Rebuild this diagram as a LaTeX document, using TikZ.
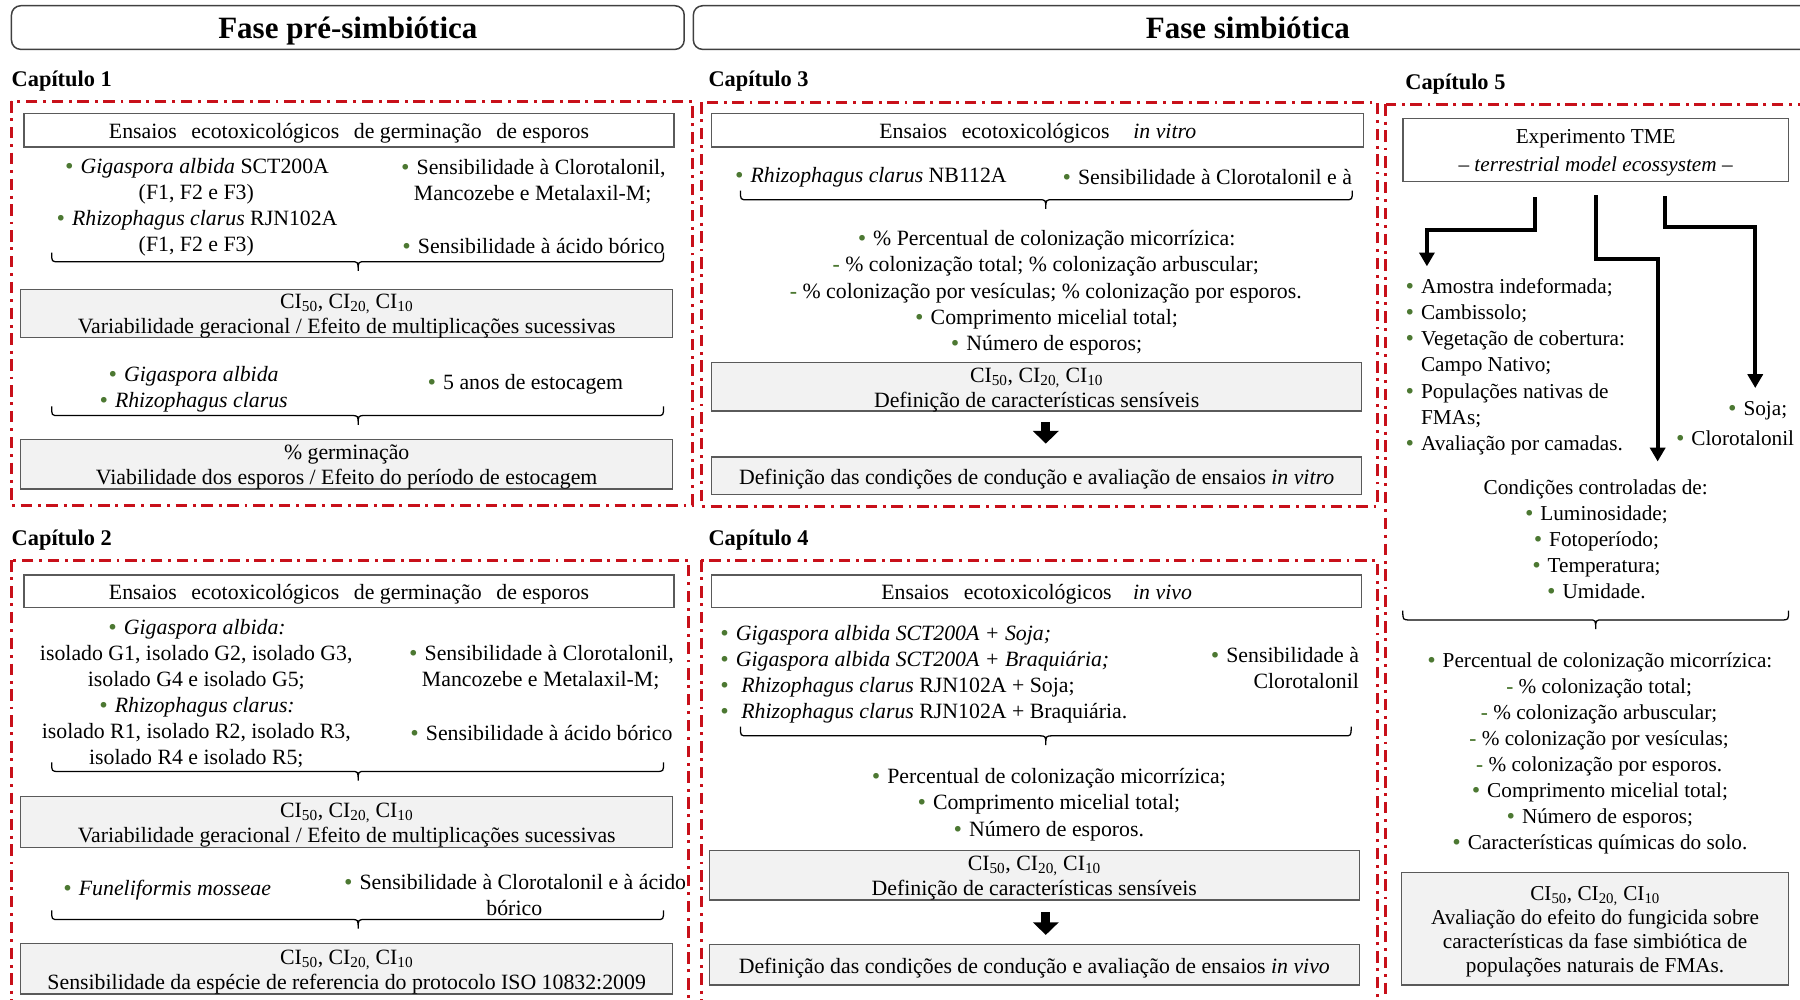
\documentclass[tikz,border=0pt]{standalone}
\usepackage{fontspec}
\setmainfont{Liberation Serif}
\newfontfamily\bulfont{DejaVu Sans}
\usetikzlibrary{arrows.meta}
\definecolor{redd}{RGB}{200,16,26}
\definecolor{bulg}{RGB}{76,120,50}
\definecolor{boxg}{RGB}{242,242,242}
\definecolor{edgeg}{RGB}{90,90,90}
\definecolor{hdrg}{RGB}{64,64,64}
\newcommand{\bul}{{\color{bulg}\bulfont\fontsize{17}{17}\selectfont•}\ }
\newcommand{\dsh}{{\color{bulg}\textbf{-}}\ }
\newcommand{\wsp}[1]{\hspace{#1pt}}
\newcommand{\CIs}{CI\textsubscript{50}, CI\textsubscript{20,} CI\textsubscript{10}}
\newcommand{\hbrace}[4]{\draw[bracestyle] (#1,#4-8) .. controls (#1,#4) .. (#1+6,#4) -- (#3-6,#4) .. controls (#3,#4) .. (#3,#4+8) .. controls (#3,#4) .. (#3+6,#4) -- (#2-6,#4) .. controls (#2,#4) .. (#2,#4-8);}
\begin{document}
\begin{tikzpicture}[x=1pt,y=-1pt,
  txt/.style={inner sep=0pt, yshift=-2.5pt, font=\fontsize{19}{22.7}\selectfont, align=center},
  txtf/.style={inner sep=0pt, yshift=-2.5pt, font=\fontsize{18.5}{22.7}\selectfont, align=center},
  btxt/.style={inner sep=0pt, yshift=-2.5pt, font=\fontsize{19}{22}\selectfont, align=center},
  wbox/.style={draw=edgeg, line width=1.2pt, fill=white, inner sep=0pt},
  gbox/.style={draw=edgeg, line width=1.2pt, fill=boxg, inner sep=0pt},
  hbox/.style={draw=hdrg, line width=1.3pt, rounded corners=8pt},
  hdrtxt/.style={inner sep=0pt, yshift=-2.5pt, font=\bfseries\fontsize{27}{30}\selectfont},
  redframe/.style={draw=redd, line width=2.6pt, dash pattern=on 10pt off 5pt on 2.5pt off 5pt},
  captxt/.style={inner sep=0pt, yshift=-2.5pt, anchor=west, font=\bfseries\fontsize{19.5}{22}\selectfont},
  bracestyle/.style={draw=black, line width=1.1pt},
  blockarrow/.style={line width=8pt, -{Triangle[width=22pt,length=11pt]}},
  elbow/.style={line width=3.5pt, -{Triangle[width=13pt,length=12pt]}}]
\useasboundingbox (0,0) rectangle (1568,871);
\clip (0,0) rectangle (1568,871);

% headers
\node[hbox, minimum width=586pt, minimum height=38pt] (h1) at (303,24) {};
\node[hdrtxt] (h1t) at (303,24.5) {Fase pré-simbiótica};
\draw[hbox] (604,5) rectangle (1610,43);
\node[hdrtxt] (h2t) at (1087,22) {Fase simbiótica};

% chapter labels
\node[captxt] (cap1) at (10,68) {Capítulo 1};
\node[captxt] (cap3) at (617,68) {Capítulo 3};
\node[captxt] (cap5) at (1224,71) {Capítulo 5};
\node[captxt] (cap2) at (10,468) {Capítulo 2};
\node[captxt] (cap4) at (617,468) {Capítulo 4};

% red frames
\draw[redframe] (10,88) rectangle (603,440);
\draw[redframe] (611,89) rectangle (1200,441);
\draw[redframe] (1207,91) rectangle (1620,920);
\draw[redframe] (10,488) rectangle (600,920);
\draw[redframe] (611,488) rectangle (1200,920);

% ---------- Chapter 1
\node[wbox, minimum width=566pt, minimum height=29pt] (c1t) at (304,113.5) {};
\node[btxt] (c1tx) at (c1t) {Ensaios\wsp{8} ecotoxicológicos\wsp{8} de germinação\wsp{8} de esporos};
\node[txt] (c1a) at (171,178) {\bul\textit{Gigaspora albida} SCT200A\\(F1, F2 e F3)\\\bul\textit{Rhizophagus clarus} RJN102A\\(F1, F2 e F3)};
\node[txt] (c1b) at (464,155.5) {\bul Sensibilidade à Clorotalonil,\\Mancozebe e Metalaxil-M;};
\node[txt] (c1c) at (464,212) {\bul Sensibilidade à ácido bórico};
\hbrace{45}{578}{312}{228}
\node[gbox, minimum width=568pt, minimum height=42pt] (c1g1) at (302,273) {};
\node[btxt] (c1g1x) at (c1g1) {\CIs\\Variabilidade geracional / Efeito de multiplicações sucessivas};
\node[txt] (c1d) at (168,336.5) {\bul\textit{Gigaspora albida}\\\bul\textit{Rhizophagus clarus}};
\node[txt] (c1e) at (457,332) {\bul 5 anos de estocagem};
\hbrace{45}{578}{312}{362}
\node[gbox, minimum width=568pt, minimum height=43pt] (c1g2) at (302,404.5) {};
\node[btxt] (c1g2x) at (c1g2) {\% germinação\\Viabilidade dos esporos / Efeito do período de estocagem};

% ---------- Chapter 3
\node[wbox, minimum width=568pt, minimum height=29pt] (c3t) at (904,113.5) {};
\node[btxt] (c3tx) at (c3t) {Ensaios\wsp{8} ecotoxicológicos\wsp{16} \textit{in vitro}};
\node[txt] (c3a) at (758,152) {\bul\textit{Rhizophagus clarus} NB112A};
\node[txt] (c3b) at (1051,152) {\bul Sensibilidade à Clorotalonil e à};
\hbrace{645}{1178}{911}{174}
\node[txt] (c3c) at (911,252.5) {\bul\% Percentual de colonização micorrízica:\\\dsh\% colonização total; \% colonização arbuscular;\\\dsh\% colonização por vesículas; \% colonização por esporos.\\\bul Comprimento micelial total;\\\bul Número de esporos;};
\node[gbox, minimum width=566pt, minimum height=42pt] (c3g1) at (903,337) {};
\node[btxt] (c3g1x) at (c3g1) {\CIs\\Definição de características sensíveis};
\node[gbox, minimum width=566pt, minimum height=33pt] (c3g2) at (903,414.5) {};
\node[btxt] (c3g2x) at (c3g2) {Definição das condições de condução e avaliação de ensaios \textit{in vitro}};
\draw[blockarrow, shorten <=9pt, shorten >=11pt] ([xshift=8pt]c3g1.south) -- ([xshift=8pt]c3g2.north);

% ---------- Chapter 5
\node[wbox, minimum width=336pt, minimum height=55pt] (c5t) at (1390,130.5) {};
\node[txtf, font=\fontsize{18.5}{24}\selectfont] (c5tx) at (c5t) {Experimento TME\\\textit{– terrestrial model ecossystem –}};
\coordinate (a1s) at (1337,172);
\coordinate (a1e) at (1243,232);
\coordinate (a2s) at (1390,170);
\coordinate (a2e) at (1444,402);
\coordinate (a3s) at (1450,171);
\coordinate (a3e) at (1529,338);
\draw[elbow] (a1s) -- (1337,200) -- (1243,200) -- (a1e);
\draw[elbow] (a2s) -- (1390,226) -- (1444,226) -- (a2e);
\draw[elbow] (a3s) -- (1450,198) -- (1529,198) -- (a3e);
\node[txtf, align=left, anchor=west] (c5l) at (1223,317) {\bul Amostra indeformada;\\\bul Cambissolo;\\\bul Vegetação de cobertura:\\\hphantom{\bul}Campo Nativo;\\\bul Populações nativas de\\\hphantom{\bul}FMAs;\\\bul Avaliação por camadas.};
\node[txtf, anchor=east] (c5s) at (1557,355) {\bul Soja;};
\node[txtf, anchor=east] (c5c) at (1563,379) {\bul Clorotalonil};
\node[txtf] (c5k) at (1390,467.5) {Condições controladas de:\\\bul Luminosidade;\\\bul Fotoperíodo;\\\bul Temperatura;\\\bul Umidade.};
\hbrace{1222}{1558}{1390}{540}
\node[txtf] (c5r) at (1393,654) {\bul Percentual de colonização micorrízica:\\\dsh\% colonização total;\\\dsh\% colonização arbuscular;\\\dsh\% colonização por vesículas;\\\dsh\% colonização por esporos.\\\bul Comprimento micelial total;\\\bul Número de esporos;\\\bul Características químicas do solo.};
\node[gbox, minimum width=337pt, minimum height=98pt] (c5g) at (1389.5,809) {};
\node[txtf, font=\fontsize{18.5}{21}\selectfont] (c5gx) at (c5g) {\CIs\\Avaliação do efeito do fungicida sobre\\características da fase simbiótica de\\populações naturais de FMAs.};

% ---------- Chapter 2
\node[wbox, minimum width=566pt, minimum height=28pt] (c2t) at (304,515) {};
\node[btxt] (c2tx) at (c2t) {Ensaios\wsp{8} ecotoxicológicos\wsp{8} de germinação\wsp{8} de esporos};
\node[txt] (c2a) at (171,601.5) {\bul\textit{Gigaspora albida:}\\isolado G1, isolado G2, isolado G3,\\isolado G4 e isolado G5;\\\bul\textit{Rhizophagus clarus:}\\isolado R1, isolado R2, isolado R3,\\isolado R4 e isolado R5;};
\node[txt] (c2b) at (471,579) {\bul Sensibilidade à Clorotalonil,\\Mancozebe e Metalaxil-M;};
\node[txt] (c2c) at (471,636) {\bul Sensibilidade à ácido bórico};
\hbrace{45}{578}{312}{672}
\node[gbox, minimum width=568pt, minimum height=44pt] (c2g1) at (302,716) {};
\node[btxt] (c2g1x) at (c2g1) {\CIs\\Variabilidade geracional / Efeito de multiplicações sucessivas};
\node[txt] (c2d) at (145,773) {\bul\textit{Funeliformis mosseae}};
\node[txt] (c2e) at (448,777) {\bul Sensibilidade à Clorotalonil e à ácido\\bórico};
\hbrace{45}{578}{312}{801}
\node[gbox, minimum width=568pt, minimum height=44pt] (c2g2) at (302,844) {};
\node[btxt] (c2g2x) at (c2g2) {\CIs\\Sensibilidade da espécie de referencia do protocolo ISO 10832:2009};

% ---------- Chapter 4
\node[wbox, minimum width=566pt, minimum height=28pt] (c4t) at (903,515) {};
\node[btxt] (c4tx) at (c4t) {Ensaios\wsp{8} ecotoxicológicos\wsp{14} \textit{in vivo}};
\node[txt, align=left, anchor=west] (c4a) at (626,585) {\bul\textit{Gigaspora albida SCT200A + Soja;}\\\bul\textit{Gigaspora albida SCT200A + Braquiária;}\\\bul\ \textit{Rhizophagus clarus} RJN102A + Soja;\\\bul\ \textit{Rhizophagus clarus} RJN102A + Braquiária.};
\node[txt, align=right, anchor=east] (c4b) at (1184,579.5) {\bul Sensibilidade à\\Clorotalonil};
\hbrace{645}{1177}{911}{641}
\node[txt] (c4c) at (913,698.5) {\bul Percentual de colonização micorrízica;\\\bul Comprimento micelial total;\\\bul Número de esporos.};
\node[gbox, minimum width=566pt, minimum height=43pt] (c4g1) at (901,762.5) {};
\node[btxt] (c4g1x) at (c4g1) {\CIs\\Definição de características sensíveis};
\node[gbox, minimum width=566pt, minimum height=35pt] (c4g2) at (901,840.5) {};
\node[btxt] (c4g2x) at (c4g2) {Definição das condições de condução e avaliação de ensaios \textit{in vivo}};
\draw[blockarrow, shorten <=10pt, shorten >=8pt] ([xshift=10pt]c4g1.south) -- ([xshift=10pt]c4g2.north);
\end{tikzpicture}
\end{document}
